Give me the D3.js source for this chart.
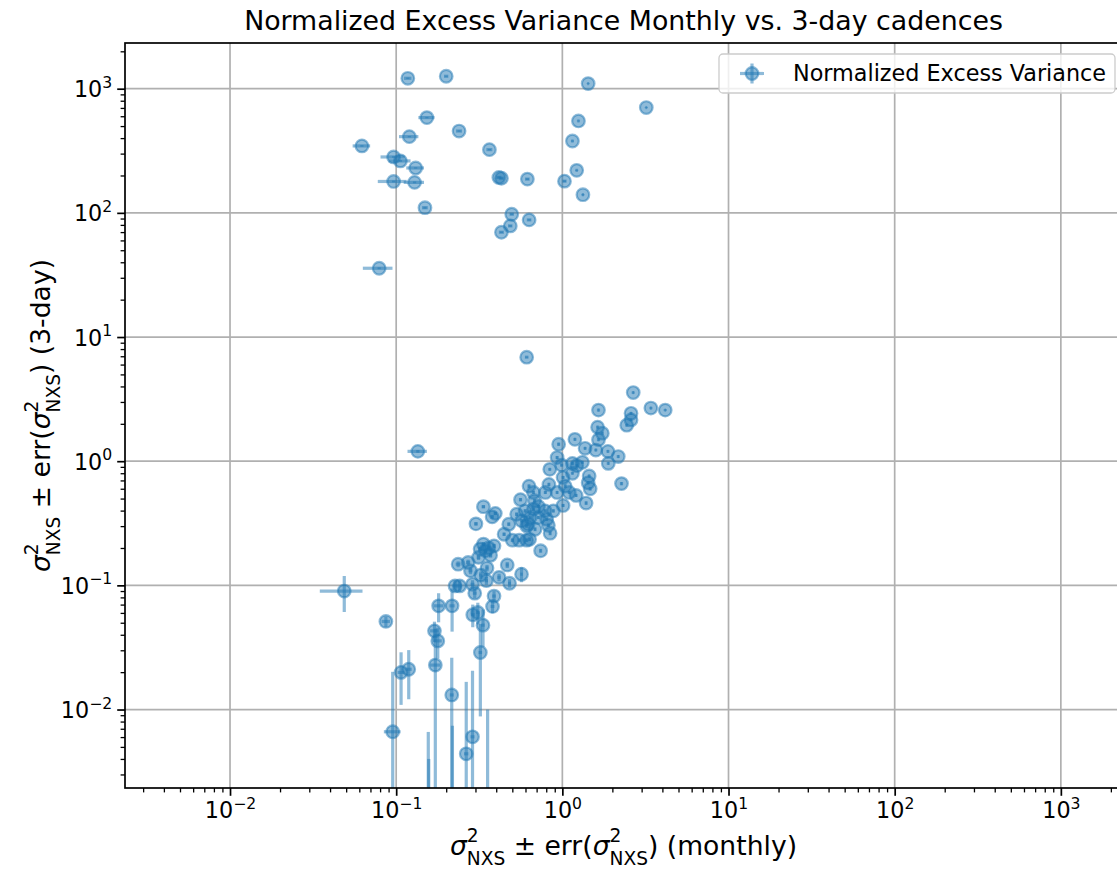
<!DOCTYPE html>
<html>
<head>
<meta charset="utf-8">
<script src="https://cdn.jsdelivr.net/npm/d3@7"></script>
<style>
  body { margin: 0; background: #fff; }
  svg { display: block; }
  text { font-family: 'DejaVu Sans', sans-serif; fill: #000; }
</style>
</head>
<body>
<svg id="chart" width="1117" height="871"></svg>
<script>
const titleText = "Normalized Excess Variance Monthly vs. 3-day cadences";
const legendLabel = "Normalized Excess Variance";
const majorExponents = [-2, -1, 0, 1, 2, 3];
const axisLimits = [Math.pow(10, -2.632), Math.pow(10, 3.368)];

// Each row: [monthly σ²NXS, monthly err, 3-day σ²NXS, 3-day err]
const highGroup = [
  [0.1175, 0.006, 1213, 15],
  [0.200, 0.006, 1259, 12],
  [1.43, 0.02, 1099, 10],
  [3.20, 0.04, 705, 8],
  [0.153, 0.017, 585, 8],
  [0.239, 0.010, 456, 6],
  [1.25, 0.02, 550, 6],
  [1.15, 0.02, 379, 5],
  [0.120, 0.016, 411, 5],
  [0.0622, 0.0075, 346, 5],
  [0.364, 0.015, 323, 4],
  [0.0965, 0.016, 282, 4],
  [0.106, 0.016, 262, 4],
  [0.131, 0.016, 230, 3],
  [0.0965, 0.019, 179, 3],
  [0.129, 0.018, 176, 3],
  [0.149, 0.006, 110, 2],
  [0.415, 0.015, 193, 3],
  [0.430, 0.015, 190, 3],
  [0.616, 0.020, 187, 3],
  [1.03, 0.03, 180, 3],
  [1.22, 0.02, 220, 3],
  [1.33, 0.02, 140, 2],
  [0.496, 0.015, 97.5, 1.5],
  [0.486, 0.015, 78.5, 1.2],
  [0.631, 0.020, 87.8, 1.2],
  [0.430, 0.015, 69.8, 1.0],
  [0.079, 0.016, 35.8, 0.6],
  [0.61, 0.015, 6.88, 0.08],
  [0.135, 0.018, 1.20, 0.03]
];

const mainGroup = [
  [2.67, 0.03, 3.57, 0.08],
  [3.41, 0.04, 2.68, 0.06],
  [4.16, 0.04, 2.58, 0.05],
  [2.59, 0.03, 2.43, 0.06],
  [2.59, 0.03, 2.15, 0.05],
  [2.44, 0.03, 1.95, 0.05],
  [1.65, 0.02, 2.58, 0.07],
  [1.63, 0.02, 1.88, 0.05],
  [1.74, 0.02, 1.68, 0.05],
  [1.65, 0.02, 1.49, 0.04],
  [1.19, 0.015, 1.50, 0.04],
  [0.95, 0.015, 1.37, 0.04],
  [1.37, 0.02, 1.27, 0.03],
  [1.59, 0.02, 1.23, 0.03],
  [1.88, 0.02, 1.20, 0.03],
  [2.17, 0.025, 1.09, 0.03],
  [1.89, 0.02, 0.96, 0.025],
  [0.93, 0.015, 1.07, 0.03],
  [0.99, 0.015, 0.93, 0.025],
  [1.15, 0.015, 0.96, 0.025],
  [1.22, 0.015, 0.92, 0.025],
  [1.32, 0.015, 0.98, 0.025],
  [1.15, 0.015, 0.80, 0.02],
  [0.84, 0.012, 0.86, 0.02],
  [1.45, 0.02, 0.76, 0.02],
  [1.01, 0.015, 0.74, 0.02],
  [1.43, 0.02, 0.67, 0.02],
  [1.47, 0.02, 0.60, 0.02],
  [1.39, 0.02, 0.46, 0.015],
  [2.27, 0.03, 0.66, 0.02],
  [0.83, 0.012, 0.65, 0.02],
  [0.63, 0.01, 0.63, 0.02],
  [1.04, 0.015, 0.63, 0.02],
  [1.10, 0.015, 0.56, 0.015],
  [0.93, 0.012, 0.56, 0.015],
  [0.79, 0.012, 0.56, 0.015],
  [0.67, 0.01, 0.56, 0.015],
  [1.21, 0.015, 0.53, 0.015],
  [1.01, 0.015, 0.44, 0.012],
  [0.56, 0.01, 0.49, 0.015],
  [0.68, 0.01, 0.48, 0.015],
  [0.335, 0.008, 0.43, 0.012],
  [0.395, 0.008, 0.38, 0.012],
  [0.378, 0.008, 0.356, 0.012],
  [0.302, 0.007, 0.313, 0.01],
  [0.531, 0.01, 0.374, 0.012],
  [0.597, 0.01, 0.398, 0.012],
  [0.670, 0.01, 0.411, 0.012],
  [0.718, 0.01, 0.432, 0.012],
  [0.787, 0.012, 0.398, 0.012],
  [0.883, 0.012, 0.398, 0.012],
  [0.569, 0.01, 0.331, 0.01],
  [0.640, 0.01, 0.352, 0.01],
  [0.718, 0.01, 0.352, 0.01],
  [0.805, 0.012, 0.341, 0.01],
  [0.610, 0.01, 0.301, 0.01],
  [0.824, 0.012, 0.305, 0.01],
  [0.685, 0.01, 0.283, 0.01],
  [0.844, 0.012, 0.263, 0.01],
  [0.476, 0.008, 0.311, 0.01],
  [0.622, 0.01, 0.311, 0.01],
  [0.446, 0.008, 0.258, 0.008],
  [0.50, 0.008, 0.231, 0.008],
  [0.55, 0.008, 0.231, 0.008],
  [0.61, 0.01, 0.231, 0.008],
  [0.635, 0.01, 0.235, 0.008],
  [0.74, 0.01, 0.19, 0.007],
  [0.335, 0.008, 0.215, 0.008],
  [0.388, 0.008, 0.208, 0.008],
  [0.32, 0.008, 0.196, 0.008],
  [0.345, 0.008, 0.19, 0.008],
  [0.36, 0.008, 0.20, 0.008],
  [0.37, 0.008, 0.175, 0.008],
  [0.313, 0.008, 0.168, 0.008],
  [0.236, 0.008, 0.148, 0.008],
  [0.271, 0.008, 0.153, 0.008],
  [0.28, 0.008, 0.131, 0.008],
  [0.352, 0.008, 0.138, 0.008],
  [0.323, 0.008, 0.121, 0.008],
  [0.349, 0.008, 0.109, 0.008],
  [0.466, 0.01, 0.146, 0.008],
  [0.416, 0.01, 0.116, 0.008],
  [0.481, 0.01, 0.104, 0.008],
  [0.568, 0.01, 0.123, 0.017],
  [0.226, 0.008, 0.099, 0.01],
  [0.241, 0.008, 0.099, 0.01],
  [0.288, 0.008, 0.102, 0.008],
  [0.297, 0.008, 0.0865, 0.008],
  [0.388, 0.01, 0.082, 0.008],
  [0.380, 0.01, 0.0676, 0.008]
];

const lowGroup = [
  [0.180, 0.012, 0.0684, 0.018],
  [0.217, 0.008, 0.0684, 0.026],
  [0.289, 0.008, 0.058, 0.012],
  [0.310, 0.008, 0.0605, 0.012],
  [0.333, 0.008, 0.0478, 0.016],
  [0.0487, 0.014, 0.090, 0.029],
  [0.0867, 0.005, 0.0512, 0.005],
  [0.170, 0.01, 0.043, 0.008],
  [0.178, 0.01, 0.0357, 0.01],
  [0.321, 0.008, 0.0288, 0.02],
  [0.107, 0.005, 0.0199, 0.009],
  [0.119, 0.005, 0.0211, 0.009],
  [0.172, 0.012, 0.0228, 0.022],
  [0.216, 0.006, 0.0131, 0.013],
  [0.0953, 0.011, 0.00662, 0.0135],
  [0.288, 0.008, 0.00603, 0.0145],
  [0.264, 0.008, 0.0044, 0.0123],
  [0.156, 0.005, 0.0012, 0.0054],
  [0.157, 0.005, 0.0010, 0.0030],
  [0.218, 0.005, 0.0012, 0.0062],
  [0.355, 0.005, 0.0015, 0.0085]
];

const points = highGroup.concat(mainGroup, lowGroup)
  .map(([x, xe, y, ye]) => ({ x, xe, y, ye }));

const color = "#1f77b4";
const markerR = 6.3, markerStroke = 2.2, barWidth = 3.2;
const svg = d3.select("#chart");
const margin = { left: 125, top: 43 };
const plotW = 997, plotH = 745;
const tickFont = 22.3, titleFont = 26.8, labelFont = 26.6;

const x = d3.scaleLog().domain(axisLimits).range([margin.left, margin.left + plotW]);
const y = d3.scaleLog().domain(axisLimits).range([margin.top + plotH, margin.top]);

const majors = majorExponents.map(e => Math.pow(10, e));
const minors = [];
for (let e = -3; e <= 3; e++) {
  for (let m = 2; m <= 9; m++) {
    const v = m * Math.pow(10, e);
    if (v > axisLimits[0] && v < axisLimits[1]) minors.push(v);
  }
}

svg.append("defs").append("clipPath").attr("id", "plotClip")
  .append("rect").attr("x", margin.left).attr("y", margin.top)
  .attr("width", plotW).attr("height", plotH);

// grid
const grid = svg.append("g").attr("stroke", "#b0b0b0").attr("stroke-width", 1.7);
grid.selectAll(".gx").data(majors).join("line")
  .attr("x1", d => x(d)).attr("x2", d => x(d))
  .attr("y1", margin.top).attr("y2", margin.top + plotH);
grid.selectAll(".gy").data(majors).join("line")
  .attr("y1", d => y(d)).attr("y2", d => y(d))
  .attr("x1", margin.left).attr("x2", margin.left + plotW);

// error bars, then markers on top
const marks = svg.append("g").attr("clip-path", "url(#plotClip)");
const lowClamp = axisLimits[0] / 10;
const safe = v => (v > 0 ? v : lowClamp);

const bars = marks.append("g").attr("stroke", color).attr("stroke-opacity", 0.5)
  .attr("stroke-width", barWidth);
bars.selectAll(".hb").data(points).join("line")
  .attr("x1", d => x(safe(d.x - d.xe))).attr("x2", d => x(d.x + d.xe))
  .attr("y1", d => y(d.y)).attr("y2", d => y(d.y));
bars.selectAll(".vb").data(points).join("line")
  .attr("x1", d => x(d.x)).attr("x2", d => x(d.x))
  .attr("y1", d => y(safe(d.y - d.ye))).attr("y2", d => y(d.y + d.ye));

marks.append("g").selectAll("circle").data(points).join("circle")
  .attr("cx", d => x(d.x)).attr("cy", d => y(d.y)).attr("r", markerR)
  .attr("fill", color).attr("fill-opacity", 0.5)
  .attr("stroke", color).attr("stroke-opacity", 0.5).attr("stroke-width", markerStroke);

// axes with power-of-ten labels
function powLabel(sel) {
  sel.each(function(d) {
    const t = d3.select(this);
    const e = Math.round(Math.log10(d));
    t.text(null);
    t.append("tspan").text("10");
    t.append("tspan").attr("dy", -9.5).attr("font-size", (0.7 * tickFont) + "px")
      .text(String(e).replace("-", "\u2212"));
  });
}

const xAxis = svg.append("g").attr("transform", `translate(0,${margin.top + plotH})`)
  .call(d3.axisBottom(x).tickValues(majors).tickSize(7.8).tickPadding(7.8).tickFormat(d => d));
xAxis.selectAll("text").attr("font-size", tickFont + "px").attr("font-family", "DejaVu Sans")
  .attr("dy", "14.5px").call(powLabel);
const xMinor = svg.append("g").attr("transform", `translate(0,${margin.top + plotH})`)
  .call(d3.axisBottom(x).tickValues(minors).tickSize(4.4).tickFormat(""));

const yAxis = svg.append("g").attr("transform", `translate(${margin.left},0)`)
  .call(d3.axisLeft(y).tickValues(majors).tickSize(7.8).tickPadding(5).tickFormat(d => d));
yAxis.selectAll("text").attr("font-size", tickFont + "px").attr("font-family", "DejaVu Sans")
  .attr("dy", "8px").call(powLabel);
const yMinor = svg.append("g").attr("transform", `translate(${margin.left},0)`)
  .call(d3.axisLeft(y).tickValues(minors).tickSize(4.4).tickFormat(""));

[xAxis, yAxis].forEach(a => { a.select(".domain").remove(); a.selectAll("line").attr("stroke-width", 1.7); });
[xMinor, yMinor].forEach(a => { a.select(".domain").remove(); a.selectAll("line").attr("stroke-width", 1.3); });

// spines
svg.append("rect").attr("x", margin.left).attr("y", margin.top)
  .attr("width", plotW).attr("height", plotH)
  .attr("fill", "none").attr("stroke", "#000").attr("stroke-width", 1.7);

// title
svg.append("text").attr("x", margin.left + plotW / 2).attr("y", 30)
  .attr("text-anchor", "middle").attr("font-size", titleFont + "px").text(titleText);

// axis labels: σ with stacked superscript and subscript
function mathLabel(textSel, parts, size) {
  let offset = 0;
  let lastSupWidth = 0;
  parts.forEach(p => {
    const ts = textSel.append("tspan").text(p.t);
    let target = 0;
    if (p.k === "sup") { target = -0.47 * size; ts.attr("font-size", (0.7 * size) + "px"); }
    else if (p.k === "sub") { target = 0.36 * size; ts.attr("font-size", (0.7 * size) + "px"); ts.attr("dx", -lastSupWidth); }
    else if (p.k === "i") { ts.attr("font-style", "italic"); }
    ts.attr("dy", target - offset);
    offset = target;
    if (p.k === "sup") lastSupWidth = ts.node().getComputedTextLength();
  });
}
const sig = [{ t: "\u03c3", k: "i" }, { t: "2", k: "sup" }, { t: "NXS", k: "sub" }];
const xLabelParts = [...sig, { t: " \u00b1 err(" }, ...sig, { t: ") (monthly)" }];
const yLabelParts = [...sig, { t: " \u00b1 err(" }, ...sig, { t: ") (3-day)" }];

const xl = svg.append("text").attr("x", margin.left + plotW / 2).attr("y", 855)
  .attr("text-anchor", "middle").attr("font-size", labelFont + "px");
mathLabel(xl, xLabelParts, labelFont);
const yl = svg.append("text").attr("transform", `translate(50,${margin.top + plotH / 2}) rotate(-90)`)
  .attr("text-anchor", "middle").attr("font-size", labelFont + "px");
mathLabel(yl, yLabelParts, labelFont);

// legend
const lg = svg.append("g");
lg.append("rect").attr("x", 719).attr("y", 54).attr("width", 396).attr("height", 39).attr("rx", 4)
  .attr("fill", "#fff").attr("fill-opacity", 0.8).attr("stroke", "#cccccc").attr("stroke-width", 1.3);
const hx = 752, hy = 73.5;
lg.append("line").attr("x1", hx - 12).attr("x2", hx + 12).attr("y1", hy).attr("y2", hy)
  .attr("stroke", color).attr("stroke-opacity", 0.5).attr("stroke-width", barWidth);
lg.append("line").attr("x1", hx).attr("x2", hx).attr("y1", hy - 10).attr("y2", hy + 10)
  .attr("stroke", color).attr("stroke-opacity", 0.5).attr("stroke-width", barWidth);
lg.append("circle").attr("cx", hx).attr("cy", hy).attr("r", markerR)
  .attr("fill", color).attr("fill-opacity", 0.5)
  .attr("stroke", color).attr("stroke-opacity", 0.5).attr("stroke-width", markerStroke);
lg.append("text").attr("x", 793).attr("y", 81).attr("font-size", tickFont + "px").text(legendLabel);
</script>
</body>
</html>
